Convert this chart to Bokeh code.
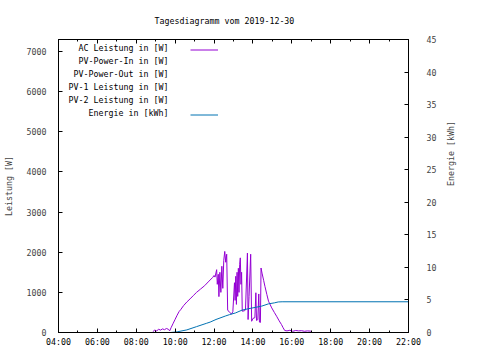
import math
from bokeh.plotting import figure
from bokeh.models import Range1d, LinearAxis, FixedTicker, Label, Legend, LegendItem
from bokeh.embed import file_html
from bokeh.resources import INLINE

title_text = "Tagesdiagramm vom 2019-12-30"
y_label = "Leistung [W]"
y2_label = "Energie [kWh]"

x_tick_hours = [4, 6, 8, 10, 12, 14, 16, 18, 20, 22]
x_tick_labels = ["04:00", "06:00", "08:00", "10:00", "12:00", "14:00", "16:00", "18:00", "20:00", "22:00"]
x_minor_hours = [5, 7, 9, 11, 13, 15, 17, 19, 21]
y_ticks = [0, 1000, 2000, 3000, 4000, 5000, 6000, 7000]
y2_ticks = [0, 5, 10, 15, 20, 25, 30, 35, 40, 45]

series_names = ["AC Leistung in [W]", "PV-Power-In in [W]", "PV-Power-Out in [W]",
                "PV-1 Leistung in [W]", "PV-2 Leistung in [W]", "Energie in [kWh]"]
series_colors = ["#9400d3", "#009e73", "#56b4e9", "#e69f00", "#f0e442", "#0072b2"]

ac_times = ["08:51", "08:57", "09:03", "09:09", "09:15", "09:21", "09:27", "09:33", "09:39", "09:43",
            "09:48", "09:54", "10:00", "10:06", "10:12", "10:18", "10:26", "10:36", "10:46", "10:56",
            "11:06", "11:18", "11:31", "11:42", "11:56", "12:00", "12:03", "12:08", "12:10", "12:13",
            "12:15", "12:18", "12:21", "12:24", "12:27", "12:30", "12:33", "12:36", "12:39", "12:42",
            "12:48", "12:54", "12:58", "13:03", "13:05", "13:07", "13:09", "13:11", "13:13", "13:15",
            "13:17", "13:19", "13:21", "13:23", "13:25", "13:27", "13:33", "13:37", "13:43", "13:45",
            "13:48", "13:53", "13:56", "14:00", "14:06", "14:09", "14:11", "14:15", "14:18", "14:20",
            "14:23", "14:25", "14:28", "14:33", "14:37", "14:43", "14:48", "14:58", "15:06", "15:13",
            "15:21", "15:28", "15:33", "15:38", "15:45", "15:54", "16:03", "16:12", "16:21", "16:30",
            "16:39", "16:48", "16:57", "17:01"]
ac_watts = [20, 60, 40, 80, 60, 90, 70, 100, 80, 40,
            130, 231, 330, 430, 520, 580, 670, 760, 837, 920,
            1000, 1080, 1167, 1260, 1374, 1420, 1380, 1565, 1200, 1450,
            894, 1500, 1000, 1650, 1100, 1800, 2020, 1750, 1950, 560,
            500, 460, 520, 1240, 800, 1400, 700, 1500, 900, 1600,
            1000, 1700, 1860, 1200, 1500, 530, 540, 560, 1980, 323,
            900, 1950, 280, 350, 370, 990, 300, 320, 960, 260,
            250, 1607, 1480, 1300, 1150, 944, 780, 613, 500, 405,
            290, 199, 120, 50, 40, 55, 30, 50, 40, 45,
            30, 40, 35, 20]

energy_times = ["09:46", "10:06", "10:36", "11:06", "11:36", "11:48", "12:06", "12:36", "12:48", "13:06",
                "13:27", "13:51", "14:12", "14:27", "14:48", "15:06", "15:18", "15:30", "22:00"]
energy_kwh = [0.0, 0.1, 0.4, 0.9, 1.4, 1.6, 2.0, 2.55, 2.75, 3.0,
              3.45, 3.7, 3.9, 4.05, 4.4, 4.55, 4.69, 4.72, 4.72]

pv_in_times, pv_in_watts = [], []
pv_out_times, pv_out_watts = [], []
pv1_times, pv1_watts = [], []
pv2_times, pv2_watts = [], []


def to_hours(t):
    h, m = t.split(":")
    return int(h) + int(m) / 60.0


FONT = "DejaVu Sans Mono"
FS = "8.3px"

p = figure(width=464, height=352, output_backend="svg", toolbar_location=None,
           x_range=Range1d(4, 22), y_range=Range1d(0, 7300),
           min_border_left=50, min_border_right=54, min_border_top=39, min_border_bottom=20)
p.background_fill_color = "white"
p.border_fill_color = "white"
p.outline_line_color = "black"
p.outline_line_width = 1
p.xgrid.visible = False
p.ygrid.visible = False
p.extra_y_ranges = {"energy": Range1d(0, 45)}

p.title.text = title_text
p.title.align = "left"
p.title.offset = 96
p.title.text_font = FONT
p.title.text_font_size = FS
p.title.text_font_style = "normal"
p.title.text_color = "black"
p.title.standoff = 23
p.title.vertical_align = "top"

xt = FixedTicker(ticks=x_tick_hours, minor_ticks=x_minor_hours)
xa = p.xaxis[0]
xa.ticker = xt
xa.major_label_overrides = {h: l for h, l in zip(x_tick_hours, x_tick_labels)}
xa.major_tick_in = 4
xa.major_tick_out = 0
xa.minor_tick_in = 2
xa.minor_tick_out = 0
xa.major_label_standoff = 4
xa.major_label_text_font = FONT
xa.major_label_text_font_size = FS
xa.major_label_text_color = "black"
xa.axis_line_color = "black"

top = LinearAxis(ticker=FixedTicker(ticks=x_tick_hours, minor_ticks=x_minor_hours),
                 major_tick_in=4, major_tick_out=0, minor_tick_in=2, minor_tick_out=0,
                 major_label_overrides={h: "" for h in x_tick_hours},
                 major_label_text_font_size="1px", major_label_standoff=0)
p.add_layout(top, "above")

ya = p.yaxis[0]
ya.ticker = FixedTicker(ticks=y_ticks)
ya.major_tick_in = 4
ya.major_tick_out = 0
ya.minor_tick_in = 0
ya.minor_tick_out = 0
ya.major_label_standoff = 12
ya.major_label_text_font = FONT
ya.major_label_text_font_size = FS
ya.axis_label = y_label
ya.axis_label_text_font = FONT
ya.axis_label_text_font_size = FS
ya.axis_label_text_font_style = "normal"
ya.axis_label_standoff = 10

ra = LinearAxis(y_range_name="energy", ticker=FixedTicker(ticks=y2_ticks),
                major_tick_in=4, major_tick_out=0, minor_tick_in=0, minor_tick_out=0,
                major_label_standoff=18, major_label_text_font=FONT, major_label_text_font_size=FS,
                axis_label=y2_label, axis_label_text_font=FONT, axis_label_text_font_size=FS,
                axis_label_text_font_style="normal", axis_label_standoff=12)
if "axis_label_orientation" in ra.properties():
    ra.axis_label_orientation = math.pi / 2
p.add_layout(ra, "right")

renderers = []
data = [(ac_times, ac_watts, "default"), (pv_in_times, pv_in_watts, "default"),
        (pv_out_times, pv_out_watts, "default"), (pv1_times, pv1_watts, "default"),
        (pv2_times, pv2_watts, "default"), (energy_times, energy_kwh, "energy")]
for (ts, vs, rng), col in zip(data, series_colors):
    r = p.line([to_hours(t) for t in ts], vs, line_color=col, line_width=1, y_range_name=rng)
    renderers.append(r)

legend = Legend(items=[LegendItem(label=" ", renderers=[r]) for r in renderers],
                location=(132, 211), orientation="vertical",
                glyph_width=28, glyph_height=13, label_height=13, label_width=1,
                spacing=0, padding=0, margin=0, label_standoff=0,
                label_text_font_size="1px", background_fill_alpha=0, border_line_alpha=0)
p.add_layout(legend)

for i, name in enumerate(series_names):
    p.add_layout(Label(x=110, y=284.7 - 13 * i, x_units="screen", y_units="screen", text=name,
                       text_align="right", text_baseline="middle", text_font=FONT,
                       text_font_size=FS, text_color="black"))

open("out.html", "w").write(file_html(p, INLINE))
